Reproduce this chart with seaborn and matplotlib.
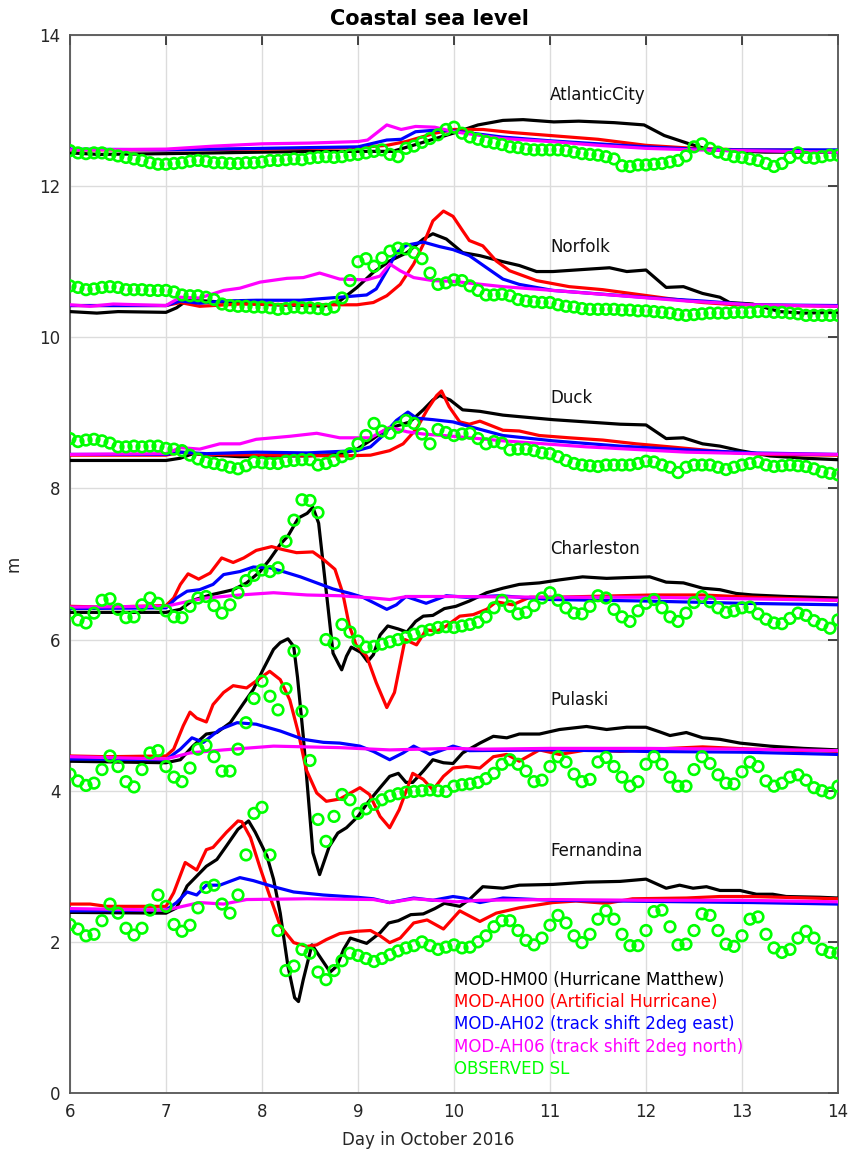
import numpy as np
import pandas as pd
import matplotlib
matplotlib.use("Agg")
import matplotlib.pyplot as plt
import seaborn as sns

# ---------------- data ----------------
stations = ["AtlanticCity", "Norfolk", "Duck", "Charleston", "Pulaski", "Fernandina"]
station_label_y = [13.2, 11.2, 9.2, 7.2, 5.2, 3.2]
station_label_x = 11.0

series_names = ["MOD-HM00 (Hurricane Matthew)", "MOD-AH00 (Artificial Hurricane)",
                "MOD-AH02 (track shift 2deg east)", "MOD-AH06 (track shift 2deg north)",
                "OBSERVED SL"]
series_colors = ["#000000", "#ff0000", "#0000ff", "#ff00ff", "#00ff00"]

# model series: (day, level) pairs, levels include station offsets
AC_HM00 = [(6.0,12.44),(6.3,12.42),(7.0,12.43),(8.0,12.45),(8.6,12.46),(9.36,12.46),(9.6,12.55),(9.99,12.70),(10.25,12.81),(10.51,12.87),(10.72,12.88),(11.04,12.85),(11.3,12.86),(11.67,12.84),(11.98,12.81),(12.19,12.67),(12.45,12.56),(12.66,12.48),(13.24,12.45),(14.0,12.45)]
AC_AH00 = [(6.0,12.48),(7.0,12.48),(8.0,12.49),(9.0,12.51),(9.3,12.54),(9.5,12.59),(9.8,12.70),(10.0,12.75),(10.3,12.75),(10.6,12.71),(11.0,12.67),(11.5,12.62),(12.0,12.54),(12.5,12.50),(13.0,12.48),(14.0,12.47)]
AC_AH02 = [(6.0,12.49),(7.0,12.48),(8.0,12.50),(9.0,12.52),(9.3,12.61),(9.45,12.62),(9.6,12.72),(9.8,12.74),(10.0,12.73),(10.5,12.65),(11.0,12.60),(11.5,12.56),(12.0,12.52),(12.5,12.49),(13.0,12.48),(14.0,12.48)]
AC_AH06 = [(6.0,12.48),(7.0,12.49),(7.5,12.53),(8.0,12.56),(8.5,12.57),(9.0,12.59),(9.1,12.61),(9.3,12.81),(9.45,12.75),(9.6,12.79),(9.8,12.78),(10.0,12.72),(10.5,12.63),(11.0,12.59),(11.5,12.54),(12.0,12.50),(12.5,12.48),(13.0,12.47),(14.0,12.45)]

NF_HM00 = [(6.0,10.34),(6.28,10.32),(6.5,10.34),(7.0,10.33),(7.11,10.39),(7.22,10.49),(7.42,10.48),(7.77,10.45),(8.12,10.43),(8.47,10.42),(8.64,10.41),(8.81,10.48),(8.99,10.66),(9.16,10.86),(9.33,11.01),(9.51,11.12),(9.68,11.30),(9.78,11.37),(9.92,11.30),(10.09,11.12),(10.27,11.08),(10.51,11.0),(10.68,10.95),(10.86,10.87),(11.03,10.87),(11.38,10.90),(11.62,10.92),(11.8,10.87),(12.0,10.89),(12.21,10.66),(12.39,10.67),(12.59,10.58),(12.77,10.53),(12.87,10.46),(13.11,10.44),(13.39,10.34),(13.64,10.32),(14.0,10.33)]
NF_AH00 = [(6.0,10.42),(7.0,10.42),(7.15,10.46),(7.35,10.41),(7.77,10.44),(8.47,10.43),(8.99,10.43),(9.16,10.46),(9.3,10.55),(9.44,10.70),(9.58,10.97),(9.68,11.23),(9.78,11.54),(9.89,11.67),(9.99,11.60),(10.09,11.41),(10.16,11.28),(10.3,11.21),(10.44,11.01),(10.58,10.88),(10.86,10.75),(11.2,10.67),(11.55,10.63),(11.9,10.57),(12.25,10.51),(12.59,10.46),(12.94,10.43),(14.0,10.41)]
NF_AH02 = [(6.0,10.42),(7.0,10.42),(7.15,10.48),(7.35,10.45),(7.6,10.48),(7.94,10.49),(8.4,10.49),(8.81,10.53),(9.09,10.56),(9.19,10.64),(9.3,10.88),(9.4,11.12),(9.51,11.22),(9.68,11.26),(9.85,11.20),(9.99,11.16),(10.16,11.08),(10.34,10.92),(10.51,10.77),(10.68,10.70),(11.03,10.62),(11.55,10.57),(12.07,10.52),(12.59,10.48),(13.11,10.43),(14.0,10.42)]
NF_AH06 = [(6.0,10.43),(6.21,10.41),(6.45,10.44),(7.0,10.42),(7.15,10.53),(7.35,10.52),(7.6,10.62),(7.77,10.65),(7.98,10.73),(8.26,10.78),(8.43,10.79),(8.6,10.85),(8.81,10.77),(9.09,10.76),(9.23,10.81),(9.33,10.97),(9.44,10.88),(9.58,10.79),(9.78,10.75),(9.99,10.74),(10.51,10.67),(11.03,10.62),(11.73,10.55),(12.42,10.48),(13.11,10.43),(14.0,10.41)]

DK_HM00 = [(6.0,8.37),(7.0,8.37),(7.15,8.40),(7.28,8.46),(7.49,8.44),(7.77,8.42),(8.12,8.43),(8.47,8.43),(8.81,8.45),(8.99,8.52),(9.16,8.66),(9.3,8.79),(9.44,8.84),(9.54,8.88),(9.68,9.04),(9.78,9.17),(9.85,9.23),(9.96,9.17),(10.09,9.04),(10.27,9.02),(10.51,8.97),(10.68,8.95),(11.03,8.91),(11.38,8.88),(11.73,8.85),(12.0,8.84),(12.21,8.66),(12.39,8.67),(12.59,8.59),(12.77,8.56),(12.98,8.50),(13.29,8.43),(13.64,8.40),(14.0,8.38)]
DK_AH00 = [(6.0,8.44),(7.0,8.44),(7.15,8.48),(7.42,8.45),(8.12,8.44),(8.81,8.43),(9.13,8.44),(9.33,8.50),(9.47,8.59),(9.61,8.79),(9.72,9.04),(9.82,9.23),(9.87,9.29),(9.95,9.08),(10.06,8.88),(10.16,8.85),(10.27,8.89),(10.37,8.84),(10.51,8.77),(10.68,8.76),(10.89,8.70),(11.2,8.67),(11.55,8.64),(11.9,8.59),(12.25,8.55),(12.59,8.51),(12.94,8.47),(13.29,8.45),(14.0,8.44)]
DK_AH02 = [(6.0,8.45),(7.0,8.45),(7.15,8.48),(7.42,8.46),(7.94,8.48),(8.47,8.47),(8.99,8.50),(9.13,8.55),(9.26,8.70),(9.4,8.90),(9.52,9.01),(9.61,8.93),(9.78,8.91),(9.99,8.88),(10.16,8.82),(10.51,8.70),(11.03,8.63),(11.73,8.56),(12.42,8.51),(13.11,8.47),(14.0,8.45)]
DK_AH06 = [(6.0,8.45),(7.0,8.46),(7.15,8.54),(7.35,8.52),(7.56,8.59),(7.77,8.59),(7.94,8.65),(8.29,8.69),(8.57,8.73),(8.81,8.67),(9.13,8.67),(9.33,8.81),(9.51,8.75),(9.68,8.72),(9.99,8.69),(10.51,8.63),(11.38,8.55),(12.42,8.48),(13.11,8.46),(14.0,8.45)]

CH_HM00 = [(6.0,6.36),(7.0,6.36),(7.15,6.40),(7.28,6.52),(7.46,6.59),(7.6,6.63),(7.7,6.66),(7.84,6.75),(7.98,6.90),(8.08,7.06),(8.19,7.26),(8.27,7.37),(8.38,7.61),(8.47,7.67),(8.53,7.75),(8.59,7.54),(8.64,6.97),(8.69,6.40),(8.74,5.82),(8.8,5.67),(8.83,5.60),(8.88,5.78),(8.93,5.90),(9.03,5.83),(9.1,5.71),(9.16,5.80),(9.23,6.06),(9.31,6.18),(9.42,6.14),(9.51,6.10),(9.6,6.24),(9.68,6.31),(9.78,6.32),(9.9,6.41),(10.02,6.44),(10.16,6.51),(10.34,6.62),(10.51,6.68),(10.68,6.73),(10.89,6.75),(11.1,6.79),(11.34,6.83),(11.59,6.81),(11.8,6.82),(12.04,6.83),(12.21,6.76),(12.39,6.75),(12.59,6.68),(12.77,6.66),(12.94,6.61),(13.11,6.59),(13.46,6.57),(14.0,6.55)]
CH_AH00 = [(6.0,6.44),(6.38,6.43),(7.0,6.45),(7.08,6.55),(7.15,6.73),(7.23,6.87),(7.34,6.80),(7.46,6.88),(7.58,7.08),(7.7,7.02),(7.81,7.08),(7.94,7.18),(8.1,7.23),(8.22,7.19),(8.36,7.15),(8.53,7.16),(8.64,7.06),(8.76,6.93),(8.84,6.62),(8.91,6.18),(8.98,5.93),(9.09,5.78),(9.19,5.43),(9.3,5.10),(9.38,5.30),(9.49,6.0),(9.61,5.93),(9.71,6.13),(9.82,6.11),(9.92,6.18),(10.06,6.31),(10.2,6.33),(10.34,6.40),(10.44,6.50),(10.61,6.46),(10.79,6.56),(11.03,6.56),(11.38,6.57),(12.07,6.59),(12.59,6.59),(13.11,6.56),(14.0,6.52)]
CH_AH02 = [(6.0,6.41),(7.0,6.42),(7.11,6.55),(7.22,6.64),(7.35,6.66),(7.49,6.73),(7.6,6.86),(7.77,6.90),(7.91,6.96),(8.08,6.95),(8.22,6.90),(8.4,6.83),(8.57,6.75),(8.74,6.67),(8.92,6.61),(9.05,6.56),(9.16,6.49),(9.3,6.40),(9.4,6.46),(9.5,6.57),(9.71,6.48),(9.92,6.58),(10.13,6.56),(10.48,6.58),(11.0,6.53),(12.0,6.51),(13.0,6.48),(14.0,6.46)]
CH_AH06 = [(6.0,6.43),(7.0,6.44),(7.25,6.51),(7.42,6.55),(7.77,6.59),(8.12,6.62),(8.47,6.59),(8.81,6.58),(9.16,6.55),(9.33,6.53),(9.51,6.57),(9.99,6.57),(11.0,6.56),(12.0,6.56),(13.0,6.54),(14.0,6.52)]

PL_HM00 = [(6.0,4.39),(7.0,4.37),(7.15,4.41),(7.28,4.59),(7.42,4.75),(7.53,4.77),(7.67,4.90),(7.81,5.16),(7.91,5.34),(8.01,5.60),(8.12,5.87),(8.19,5.96),(8.27,6.01),(8.33,5.91),(8.37,5.50),(8.43,4.72),(8.48,3.95),(8.53,3.18),(8.6,2.89),(8.7,3.26),(8.79,3.44),(8.88,3.51),(9.0,3.66),(9.1,3.84),(9.23,4.04),(9.33,4.19),(9.42,4.23),(9.5,4.11),(9.57,4.11),(9.68,4.26),(9.78,4.41),(9.89,4.37),(9.99,4.36),(10.09,4.50),(10.27,4.63),(10.41,4.72),(10.55,4.70),(10.68,4.75),(10.89,4.75),(11.1,4.81),(11.38,4.85),(11.59,4.81),(11.8,4.84),(12.0,4.84),(12.14,4.78),(12.25,4.73),(12.42,4.77),(12.59,4.70),(12.77,4.68),(12.98,4.63),(13.29,4.59),(13.64,4.56),(14.0,4.54)]
PL_AH00 = [(6.0,4.46),(6.38,4.45),(7.0,4.46),(7.08,4.55),(7.18,4.86),(7.25,5.04),(7.32,4.96),(7.42,4.91),(7.49,5.14),(7.6,5.30),(7.7,5.39),(7.84,5.36),(7.98,5.49),(8.08,5.58),(8.19,5.47),(8.29,5.20),(8.38,4.76),(8.46,4.28),(8.57,3.97),(8.67,3.86),(8.81,3.89),(9.02,4.04),(9.12,3.95),(9.23,3.66),(9.33,3.51),(9.43,3.75),(9.57,4.23),(9.68,4.15),(9.78,4.01),(9.89,4.19),(9.99,4.30),(10.13,4.32),(10.27,4.30),(10.41,4.45),(10.55,4.48),(10.68,4.39),(10.89,4.54),(11.1,4.48),(11.38,4.54),(11.73,4.52),(12.07,4.55),(12.59,4.58),(13.11,4.55),(14.0,4.52)]
PL_AH02 = [(6.0,4.42),(7.0,4.41),(7.15,4.55),(7.27,4.70),(7.39,4.64),(7.56,4.81),(7.74,4.90),(7.94,4.88),(8.19,4.79),(8.43,4.68),(8.64,4.64),(8.81,4.63),(9.02,4.59),(9.16,4.52),(9.33,4.41),(9.47,4.50),(9.58,4.59),(9.75,4.48),(9.99,4.59),(10.16,4.53),(11.0,4.54),(12.0,4.52),(13.0,4.51),(14.0,4.48)]
PL_AH06 = [(6.0,4.45),(7.0,4.42),(7.25,4.50),(7.6,4.54),(8.12,4.59),(8.81,4.57),(9.33,4.54),(9.99,4.56),(10.3,4.55),(11.0,4.56),(12.0,4.56),(13.0,4.55),(14.0,4.53)]

FD_HM00 = [(6.0,2.39),(7.0,2.38),(7.11,2.45),(7.22,2.74),(7.32,2.87),(7.42,3.0),(7.53,3.09),(7.63,3.27),(7.75,3.49),(7.86,3.60),(7.93,3.45),(8.05,3.14),(8.12,2.83),(8.19,2.38),(8.27,1.68),(8.34,1.26),(8.38,1.21),(8.43,1.50),(8.52,1.96),(8.62,1.77),(8.71,1.60),(8.78,1.68),(8.85,1.90),(8.92,2.05),(9.09,1.98),(9.23,2.12),(9.32,2.25),(9.42,2.28),(9.55,2.36),(9.68,2.37),(9.8,2.44),(9.9,2.51),(10.06,2.47),(10.16,2.56),(10.3,2.73),(10.51,2.71),(10.68,2.75),(11.03,2.76),(11.38,2.79),(11.73,2.80),(12.0,2.83),(12.21,2.71),(12.35,2.75),(12.49,2.71),(12.63,2.73),(12.77,2.68),(12.98,2.68),(13.15,2.63),(13.32,2.63),(13.46,2.60),(13.81,2.59),(14.0,2.58)]
FD_AH00 = [(6.0,2.50),(6.21,2.50),(6.38,2.47),(7.0,2.47),(7.08,2.65),(7.2,3.05),(7.32,2.95),(7.42,3.22),(7.49,3.25),(7.63,3.45),(7.75,3.60),(7.79,3.59),(7.88,3.38),(7.98,2.98),(8.08,2.61),(8.19,2.21),(8.33,1.99),(8.47,1.94),(8.57,1.96),(8.67,2.03),(8.81,2.11),(8.99,2.14),(9.13,2.15),(9.23,2.08),(9.33,1.99),(9.44,2.05),(9.58,2.25),(9.72,2.29),(9.89,2.17),(10.06,2.41),(10.27,2.27),(10.44,2.38),(10.68,2.45),(11.03,2.52),(11.27,2.54),(11.59,2.51),(11.86,2.57),(12.42,2.58),(12.77,2.60),(13.11,2.60),(14.0,2.57)]
FD_AH02 = [(6.0,2.41),(7.0,2.42),(7.11,2.52),(7.22,2.66),(7.32,2.62),(7.42,2.75),(7.56,2.75),(7.77,2.85),(7.91,2.81),(8.12,2.73),(8.33,2.66),(8.64,2.62),(8.99,2.59),(9.16,2.57),(9.33,2.52),(9.58,2.58),(9.78,2.55),(9.99,2.60),(10.1,2.58),(10.27,2.52),(10.51,2.58),(11.03,2.55),(11.73,2.54),(12.42,2.53),(13.11,2.52),(14.0,2.50)]
FD_AH06 = [(6.0,2.44),(7.0,2.42),(7.35,2.52),(7.6,2.50),(7.84,2.56),(8.47,2.57),(9.16,2.56),(9.33,2.52),(9.58,2.57),(10.03,2.53),(10.27,2.55),(11.0,2.56),(12.0,2.55),(13.0,2.55),(14.0,2.53)]

# observed sea level, every 2 hours from day 6.0 to day 14.0 (one row per day)
AC_OBS = [12.47, 12.44, 12.43, 12.44, 12.44, 12.42, 12.40, 12.38, 12.36, 12.34, 12.31, 12.29,
          12.29, 12.30, 12.31, 12.33, 12.34, 12.33, 12.31, 12.31, 12.30, 12.30, 12.31, 12.31,
          12.32, 12.34, 12.34, 12.35, 12.36, 12.35, 12.37, 12.38, 12.39, 12.38, 12.39, 12.41,
          12.42, 12.44, 12.46, 12.48, 12.42, 12.39, 12.50, 12.53, 12.58, 12.63, 12.68, 12.75,
          12.78, 12.70, 12.65, 12.62, 12.59, 12.57, 12.55, 12.52, 12.51, 12.49, 12.48, 12.48,
          12.48, 12.48, 12.47, 12.45, 12.43, 12.42, 12.41, 12.39, 12.36, 12.27, 12.26, 12.28,
          12.28, 12.29, 12.30, 12.32, 12.34, 12.40, 12.52, 12.56, 12.50, 12.45, 12.42, 12.39,
          12.38, 12.36, 12.34, 12.30, 12.26, 12.30, 12.38, 12.44, 12.38, 12.37, 12.39, 12.41,
          12.41]
NF_OBS = [10.68, 10.66, 10.63, 10.64, 10.66, 10.67, 10.66, 10.63, 10.63, 10.63, 10.62, 10.62,
          10.62, 10.60, 10.56, 10.55, 10.55, 10.53, 10.50, 10.44, 10.42, 10.41, 10.41, 10.40,
          10.40, 10.39, 10.37, 10.38, 10.40, 10.39, 10.39, 10.38, 10.37, 10.40, 10.52, 10.75,
          11.00, 11.04, 10.94, 11.05, 11.14, 11.18, 11.17, 11.12, 11.04, 10.85, 10.70, 10.72,
          10.76, 10.75, 10.68, 10.62, 10.56, 10.56, 10.57, 10.55, 10.50, 10.48, 10.47, 10.46,
          10.46, 10.43, 10.41, 10.40, 10.38, 10.37, 10.37, 10.37, 10.37, 10.36, 10.36, 10.35,
          10.35, 10.34, 10.33, 10.32, 10.30, 10.29, 10.30, 10.31, 10.32, 10.32, 10.32, 10.33,
          10.33, 10.33, 10.34, 10.34, 10.33, 10.33, 10.32, 10.31, 10.29, 10.29, 10.29, 10.29,
          10.29]
DK_OBS = [8.66, 8.62, 8.64, 8.65, 8.63, 8.60, 8.55, 8.55, 8.56, 8.55, 8.56, 8.56,
          8.53, 8.52, 8.50, 8.44, 8.39, 8.35, 8.33, 8.31, 8.28, 8.26, 8.30, 8.35,
          8.34, 8.33, 8.33, 8.36, 8.37, 8.38, 8.38, 8.31, 8.33, 8.37, 8.42, 8.46,
          8.59, 8.70, 8.86, 8.76, 8.73, 8.81, 8.90, 8.86, 8.72, 8.59, 8.78, 8.74,
          8.70, 8.72, 8.73, 8.66, 8.59, 8.62, 8.60, 8.51, 8.52, 8.52, 8.50, 8.47,
          8.46, 8.42, 8.37, 8.33, 8.31, 8.30, 8.29, 8.31, 8.31, 8.31, 8.31, 8.33,
          8.36, 8.35, 8.31, 8.28, 8.21, 8.28, 8.31, 8.31, 8.31, 8.28, 8.25, 8.28,
          8.31, 8.33, 8.35, 8.31, 8.29, 8.30, 8.31, 8.30, 8.29, 8.26, 8.22, 8.20,
          8.18]
CH_OBS = [6.35, 6.26, 6.22, 6.35, 6.52, 6.54, 6.40, 6.29, 6.30, 6.46, 6.55, 6.48,
          6.38, 6.30, 6.29, 6.44, 6.55, 6.57, 6.45, 6.35, 6.46, 6.62, 6.78, 6.85,
          6.92, 6.90, 6.95, 7.30, 7.58, 7.85, 7.84, 7.68, 6.00, 5.95, 6.20, 6.10,
          5.98, 5.90, 5.91, 5.94, 5.97, 6.00, 6.03, 6.07, 6.11, 6.13, 6.16, 6.17,
          6.16, 6.18, 6.20, 6.23, 6.30, 6.42, 6.52, 6.44, 6.34, 6.36, 6.45, 6.55,
          6.62, 6.52, 6.42, 6.35, 6.34, 6.44, 6.58, 6.55, 6.40, 6.30, 6.24, 6.38,
          6.48, 6.53, 6.42, 6.30, 6.24, 6.35, 6.49, 6.57, 6.50, 6.42, 6.36, 6.38,
          6.42, 6.43, 6.34, 6.27, 6.22, 6.21, 6.28, 6.35, 6.32, 6.25, 6.20, 6.15,
          6.26]
PL_OBS = [4.22, 4.13, 4.07, 4.10, 4.28, 4.46, 4.32, 4.12, 4.05, 4.28, 4.50, 4.53,
          4.32, 4.18, 4.12, 4.30, 4.55, 4.60, 4.45, 4.26, 4.26, 4.55, 4.90, 5.22,
          5.45, 5.25, 5.07, 5.35, 5.85, 5.05, 4.40, 3.62, 3.33, 3.66, 3.95, 3.88,
          3.70, 3.76, 3.82, 3.88, 3.93, 3.96, 3.98, 3.99, 4.00, 4.01, 4.00, 3.99,
          4.06, 4.08, 4.09, 4.11, 4.16, 4.23, 4.35, 4.41, 4.35, 4.26, 4.12, 4.14,
          4.32, 4.45, 4.38, 4.22, 4.12, 4.15, 4.38, 4.44, 4.32, 4.18, 4.06, 4.12,
          4.35, 4.45, 4.35, 4.18, 4.06, 4.06, 4.28, 4.45, 4.36, 4.21, 4.10, 4.09,
          4.25, 4.38, 4.32, 4.13, 4.06, 4.10, 4.18, 4.21, 4.14, 4.04, 4.00, 3.97,
          4.06]
FD_OBS = [2.23, 2.17, 2.08, 2.10, 2.28, 2.50, 2.38, 2.18, 2.09, 2.18, 2.42, 2.62,
          2.47, 2.23, 2.14, 2.22, 2.45, 2.72, 2.75, 2.50, 2.38, 2.62, 3.15, 3.70,
          3.78, 3.15, 2.15, 1.62, 1.68, 1.90, 1.85, 1.60, 1.50, 1.62, 1.75, 1.85,
          1.82, 1.78, 1.74, 1.78, 1.83, 1.88, 1.92, 1.95, 2.00, 1.95, 1.90, 1.93,
          1.96, 1.92, 1.93, 2.00, 2.08, 2.20, 2.28, 2.28, 2.15, 2.02, 1.96, 2.05,
          2.22, 2.35, 2.25, 2.08, 1.99, 2.10, 2.30, 2.41, 2.30, 2.10, 1.95, 1.95,
          2.15, 2.40, 2.42, 2.20, 1.96, 1.97, 2.15, 2.37, 2.35, 2.15, 1.97, 1.94,
          2.08, 2.30, 2.33, 2.10, 1.92, 1.86, 1.90, 2.05, 2.14, 2.05, 1.90, 1.86,
          1.85]

x_ticks = [6, 7, 8, 9, 10, 11, 12, 13, 14]
y_ticks = [0, 2, 4, 6, 8, 10, 12, 14]

model_sets = [
    [AC_HM00, AC_AH00, AC_AH02, AC_AH06],
    [NF_HM00, NF_AH00, NF_AH02, NF_AH06],
    [DK_HM00, DK_AH00, DK_AH02, DK_AH06],
    [CH_HM00, CH_AH00, CH_AH02, CH_AH06],
    [PL_HM00, PL_AH00, PL_AH02, PL_AH06],
    [FD_HM00, FD_AH00, FD_AH02, FD_AH06],
]
obs_sets = [AC_OBS, NF_OBS, DK_OBS, CH_OBS, PL_OBS, FD_OBS]

# ---------------- plot ----------------
sns.set_style("white")
plt.rcParams['font.family'] = ['DejaVu Sans']
plt.rcParams['axes.unicode_minus'] = False

fig = plt.figure(figsize=(8.58, 11.51), dpi=100)
ax = fig.add_axes([70/858, 1 - 1093/1151, 768/858, 1058/1151])

axis_gray = "#262626"
legend_handles = []
for si, (models, obs) in enumerate(zip(model_sets, obs_sets)):
    for mi, pairs in enumerate(models):
        df = pd.DataFrame(pairs, columns=["day", "level"])
        sns.lineplot(data=df, x="day", y="level", color=series_colors[mi], lw=2.3,
                     estimator=None, sort=False, legend=False, ax=ax, zorder=3)
        if si == 0:
            legend_handles.append(ax.lines[-1])
    assert len(obs) == 97
    dfo = pd.DataFrame({"day": 6 + np.arange(len(obs)) / 12.0, "level": obs})
    sns.scatterplot(data=dfo, x="day", y="level", marker="o", s=58,
                    facecolor="none", edgecolor=series_colors[4], linewidth=1.9,
                    legend=False, ax=ax, zorder=4)
    if si == 0:
        legend_handles.append(ax.collections[-1])
    ax.text(station_label_x, station_label_y[si], stations[si], fontsize=12,
            ha="left", va="center", color="#111111", zorder=5)

ax.set_xlim(6, 14)
ax.set_ylim(0, 14)
ax.set_xticks(x_ticks)
ax.set_yticks(y_ticks)
ax.set_xticklabels([str(v) for v in x_ticks])
ax.set_yticklabels([str(v) for v in y_ticks])
ax.grid(True, color="#dcdcdc", lw=1.0, zorder=0)
ax.set_axisbelow(True)
ax.tick_params(direction="in", length=7, width=1.2, top=True, right=True,
               labelsize=12, colors=axis_gray, pad=7)
for sp in ax.spines.values():
    sp.set_color("#555555")
    sp.set_linewidth(1.3)
    sp.set_visible(True)

ax.set_xlabel("Day in October 2016", fontsize=12, color=axis_gray)
ax.set_ylabel("m", fontsize=12, color=axis_gray)
ax.xaxis.set_label_coords((428 - 70) / 768, -0.036)
ax.yaxis.set_label_coords((22 - 70) / 768, 0.5)
ax.set_title("Coastal sea level", fontsize=15, fontweight="bold", color="black",
             x=(429 - 70) / 768, pad=7)

leg = ax.legend(legend_handles, series_names, loc="upper left",
                bbox_to_anchor=(10.0, 1.62), bbox_transform=ax.transData,
                frameon=False, handlelength=0, handletextpad=0, borderpad=0,
                borderaxespad=0, labelspacing=0.26, fontsize=12)
for h in leg.legend_handles:
    h.set_visible(False)
for txt, col in zip(leg.get_texts(), series_colors):
    txt.set_color(col)

fig.savefig("out.png", dpi=100)
